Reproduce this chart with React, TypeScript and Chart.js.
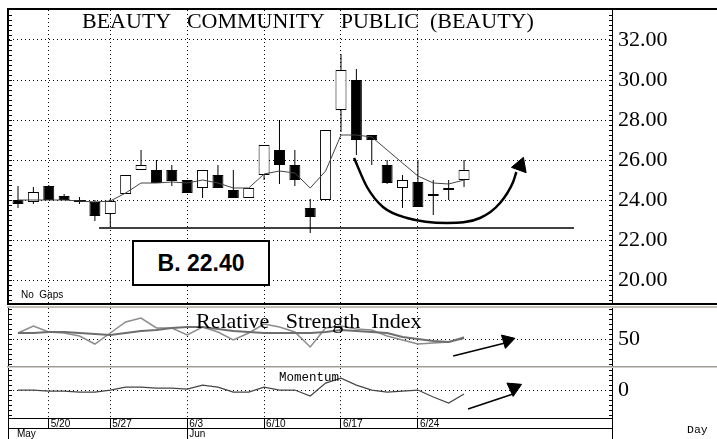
import React, { useEffect, useRef } from "react";
import { Chart, registerables } from "chart.js";
Chart.register(...registerables);

// ---------------- data ----------------
const tradingDays = ["5/16","5/17","5/20","5/21","5/22","5/23","5/24","5/28","5/29","5/30","5/31","6/3","6/4","6/5","6/6","6/7","6/10","6/11","6/12","6/13","6/14","6/17","6/18","6/19","6/20","6/21","6/24","6/25","6/26","6/27"];
const opens  = [24.0, 23.9, 24.7, 24.2, 24.0, 23.9, 23.3, 24.3, 25.5, 25.5, 25.5, 25.0, 24.6, 25.25, 24.5, 24.1, 25.25, 26.5, 25.75, 23.6, 24.0, 28.5, 30.0, 27.25, 25.75, 24.6, 24.9, 24.3, 24.5, 25.0];
const highs  = [24.7, 24.65, 24.75, 24.3, 24.15, 24.0, 24.05, 25.25, 26.5, 26.0, 25.75, 25.0, 25.5, 25.75, 25.5, 24.6, 26.75, 28.0, 26.5, 24.05, 27.5, 31.3, 30.55, 27.25, 26.0, 25.25, 26.0, 25.0, 25.0, 26.0];
const lows   = [23.6, 23.8, 24.0, 24.0, 23.8, 22.95, 22.65, 24.3, 25.5, 24.85, 24.7, 24.35, 24.1, 24.6, 24.1, 24.1, 25.0, 24.8, 24.7, 22.35, 24.0, 27.4, 26.25, 25.75, 24.8, 23.6, 23.65, 23.25, 24.0, 24.65];
const closes = [23.8, 24.4, 24.0, 24.0, 23.9, 23.2, 23.95, 25.25, 25.75, 24.85, 24.95, 24.35, 25.5, 24.6, 24.1, 24.6, 26.75, 25.75, 25.0, 23.15, 27.5, 30.5, 27.0, 27.0, 24.85, 25.0, 23.65, 24.2, 24.6, 25.5];
const movingAvg = [24.0, 24.0, 24.0, 24.0, 23.95, 23.9, 23.95, 24.35, 24.85, 24.85, 24.9, 24.85, 25.0, 24.85, 24.6, 24.6, 25.3, 25.45, 25.35, 24.6, 25.45, 27.25, 27.25, 27.15, 26.5, 25.85, 25.2, 24.85, 24.8, 25.0];

const rsiValues = [56, 63, 57, 56, 53, 45, 56, 67, 71, 61, 61, 54, 62, 57, 49, 56, 65, 62, 57, 42, 61, 63, 60, 59, 53, 49, 45, 46, 47, 52];
const rsiAverage = [56, 56, 57, 57, 56, 55, 54, 56, 58, 59, 61, 62, 62, 60, 58, 57, 56, 56, 56, 56, 57, 59, 58, 57, 56, 52, 50, 48, 47, 51];
const momentumValues = [0, 0, -1, -1, -2, -2, 0, 3, 3, 2, 2, 1, 5, 3, -2, -2, 3, 0, 0, -6, 7, 12, 5, 0, -2, -1, 0, -7, -13, -4];

const weekTickIdx = [2, 6, 11, 16, 21, 26];
const weekLabels = ["5/20", "5/27", "6/3", "6/10", "6/17", "6/24"];
const monthTickIdx = [-0.2, 11];
const monthLabels = ["May", "Jun"];

const priceTickValues = [20, 22, 24, 26, 28, 30, 32];
const priceTickLabels = ["20.00", "22.00", "24.00", "26.00", "28.00", "30.00", "32.00"];
const priceMinorTicks = [19, 19.25, 19.5, 19.75, 20, 20.25, 20.5, 20.75, 21, 21.25, 21.5, 21.75, 22, 22.25, 22.5, 22.75, 23, 23.25, 23.5, 23.75, 24, 24.25, 24.5, 24.75, 25, 25.25, 25.5, 25.75, 26, 26.25, 26.5, 26.75, 27, 27.25, 27.5, 27.75, 28, 28.25, 28.5, 28.75, 29, 29.25, 29.5, 29.75, 30, 30.25, 30.5, 30.75, 31, 31.25, 31.5, 31.75, 32, 32.25, 32.5, 32.75, 33, 33.25];
const rsiTickValues = [50];
const rsiTickLabels = ["50"];
const rsiMinorTicks = [25, 30, 35, 40, 45, 50, 55, 60, 65, 70, 75, 80];
const momTickValues = [0];
const momTickLabels = ["0"];
const momMinorTicks = [-25, -20, -15, -10, -5, 0, 5, 10, 15, 20];

// annotation marks (data units)
const supportLevel = 22.6;
const supportSpan = [5.27, 36.15];
const cupCurve = [
  { x: 21.85, y: 26.1 }, { x: 22.69, y: 24.65 }, { x: 23.73, y: 23.65 }, { x: 25.29, y: 23.1 },
  { x: 27.9, y: 22.85 }, { x: 30.04, y: 23.1 }, { x: 31.34, y: 23.85 }, { x: 32.19, y: 24.9 }, { x: 32.4, y: 25.4 },
];
const cupHead = { x: 32.66, y: 25.71 };
const rsiArrow = [{ x: 28.29, y: 33 }, { x: 31.67, y: 46 }];
const rsiHead = { x: 31.81, y: 48.4 };
const momArrow = [{ x: 29.26, y: -19 }, { x: 32.19, y: -4 }];
const momHead = { x: 32.24, y: 2.1 };

// ---------------- helpers ----------------
const X_MIN = -0.585;
const X_MAX = 38.62;
const serif = '"Liberation Serif", "Times New Roman", serif';
const sans = '"Liberation Sans", Arial, sans-serif';
const mono = '"Liberation Mono", "Courier New", monospace';

function hiddenX(): any {
  return {
    type: "linear", min: X_MIN, max: X_MAX, offset: false,
    afterBuildTicks: (s: any) => { s.ticks = weekTickIdx.map((v) => ({ value: v })); },
    afterFit: (s: any) => { s.height = 0; },
    ticks: { display: false },
    grid: { color: "#000", lineWidth: 1, drawTicks: false, offset: false },
    border: { display: false, dash: [1, 3] },
  };
}

function valueY(min: number, max: number, major: number[], labels: string[]): any {
  return {
    type: "linear", position: "right", min, max,
    afterBuildTicks: (s: any) => { s.ticks = major.map((v) => ({ value: v })); },
    afterFit: (s: any) => { s.width = 105; },
    ticks: {
      autoSkip: false, padding: 0, color: "#000", font: { family: serif, size: 22, lineHeight: 0.01 },
      callback: (_v: any, i: number) => labels[i],
    },
    grid: { drawTicks: true, tickLength: 6, tickColor: "rgba(0,0,0,0)", color: "#000", lineWidth: 1 },
    border: { display: false, dash: [1, 3] },
  };
}

function baseOptions(padding: any, scales: any): any {
  return {
    responsive: false, animation: false, devicePixelRatio: 1, events: [],
    layout: { padding, autoPadding: false },
    plugins: { legend: { display: false }, tooltip: { enabled: false }, title: { display: false } },
    scales,
  };
}

function minorTicks(ctx: CanvasRenderingContext2D, ys: any, minor: number[]) {
  minor.forEach((v) => {
    const p = Math.round(ys.getPixelForValue(v));
    ctx.fillRect(9, p, 3, 1);
    ctx.fillRect(609, p, 3, 1);
  });
}

const pts = (arr: number[]) => arr.map((v, i) => ({ x: i, y: v }));

function makePrice(canvas: HTMLCanvasElement) {
  const frame = {
    id: "priceFrame",
    afterDraw(chart: any) {
      const ctx = chart.ctx; ctx.save(); ctx.fillStyle = "#000";
      ctx.fillRect(7, 8, 2, 297);
      ctx.fillRect(7, 8, 710, 2);
      ctx.fillRect(7, 303, 710, 2);
      ctx.fillRect(612, 10, 1, 293);
      minorTicks(ctx, chart.scales.y, priceMinorTicks);
      ctx.restore();
    },
  };
  return new Chart(canvas, {
    type: "bar",
    data: {
      datasets: [
        { type: "bar", data: lows.map((l, i) => ({ x: i, y: [l, highs[i]] })), backgroundColor: "#000", borderWidth: 0, barThickness: 1, grouped: false, inflateAmount: 0, order: 4 } as any,
        { type: "bar", data: opens.map((o, i) => ({ x: i, y: [o, closes[i]] })), backgroundColor: opens.map((o, i) => (closes[i] >= o ? "#fff" : "#000")), borderColor: "#000", borderWidth: 1, borderSkipped: false, barThickness: 11, grouped: false, inflateAmount: 0, order: 3 } as any,
        { type: "line", data: pts(movingAvg), borderColor: "#444", borderWidth: 1, pointRadius: 0, order: 2 } as any,
        { type: "line", data: [{ x: supportSpan[0], y: supportLevel }, { x: supportSpan[1], y: supportLevel }], borderColor: "#000", borderWidth: 1.5, pointRadius: 0, order: 1 } as any,
        { type: "line", data: cupCurve, borderColor: "#000", borderWidth: 2.5, pointRadius: 0, cubicInterpolationMode: "monotone", order: 0 } as any,
        { type: "line", data: [cupHead], showLine: false, pointStyle: "triangle", pointRadius: 9, pointRotation: 20, pointBackgroundColor: "#000", pointBorderColor: "#000", order: 0 } as any,
      ],
    },
    options: baseOptions({ left: 9, top: 10, right: 0, bottom: 2 }, {
      x: hiddenX(),
      y: valueY(18.85, 33.5, priceTickValues, priceTickLabels),
    }),
    plugins: [frame],
  } as any);
}

function makeRsi(canvas: HTMLCanvasElement) {
  const frame = {
    id: "rsiFrame",
    afterDraw(chart: any) {
      const ctx = chart.ctx; ctx.save();
      ctx.fillStyle = "#c4c0b8"; ctx.fillRect(7, 1, 710, 2);
      ctx.fillStyle = "#9a9a9a"; ctx.fillRect(7, 61, 710, 1);
      ctx.fillStyle = "#d4d0c8"; ctx.fillRect(7, 62, 710, 1);
      ctx.fillStyle = "#000";
      ctx.fillRect(8, 3, 1, 58);
      ctx.fillRect(612, 3, 1, 58);
      minorTicks(ctx, chart.scales.y, rsiMinorTicks);
      ctx.restore();
    },
  };
  return new Chart(canvas, {
    type: "line",
    data: {
      datasets: [
        { data: pts(rsiValues), borderColor: "#8c8c8c", borderWidth: 1.5, pointRadius: 0, order: 2 },
        { data: pts(rsiAverage), borderColor: "#6e6e6e", borderWidth: 2, pointRadius: 0, order: 1 },
        { data: rsiArrow, borderColor: "#000", borderWidth: 1.5, pointRadius: 0, order: 0 },
        { data: [rsiHead], showLine: false, pointStyle: "triangle", pointRadius: 8, pointRotation: 73.6, pointBackgroundColor: "#000", pointBorderColor: "#000", order: 0 },
      ] as any,
    },
    options: baseOptions({ left: 9, top: 3, right: 0, bottom: 2 }, {
      x: hiddenX(),
      y: valueY(23, 81, rsiTickValues, rsiTickLabels),
    }),
    plugins: [frame],
  } as any);
}

function makeMom(canvas: HTMLCanvasElement) {
  const frame = {
    id: "momFrame",
    afterDraw(chart: any) {
      const ctx = chart.ctx; ctx.save(); ctx.fillStyle = "#000";
      ctx.fillRect(8, 0, 1, 71);
      ctx.fillRect(612, 0, 1, 71);
      ctx.fillRect(8, 50, 605, 1);
      ctx.fillRect(8, 60, 605, 1);
      minorTicks(ctx, chart.scales.y, momMinorTicks);
      ctx.restore();
    },
  };
  return new Chart(canvas, {
    type: "line",
    data: {
      datasets: [
        { data: pts(momentumValues), borderColor: "#454545", borderWidth: 1.2, pointRadius: 0, order: 1 },
        { data: momArrow, borderColor: "#000", borderWidth: 1.5, pointRadius: 0, order: 0 },
        { data: [momHead], showLine: false, pointStyle: "triangle", pointRadius: 8.5, pointRotation: 185, pointBackgroundColor: "#000", pointBorderColor: "#000", order: 0 },
      ] as any,
    },
    options: baseOptions({ left: 9, top: 0, right: 0, bottom: 0 }, {
      x: {
        type: "linear", position: "bottom", weight: 0, min: X_MIN, max: X_MAX, offset: false,
        afterBuildTicks: (s: any) => { s.ticks = weekTickIdx.map((v) => ({ value: v })); },
        afterFit: (s: any) => { s.height = 10; },
        ticks: {
          autoSkip: false, maxRotation: 0, minRotation: 0, align: "start", labelOffset: 2, padding: -10,
          color: "#000", font: { family: sans, size: 10 },
          callback: (_v: any, i: number) => weekLabels[i],
        },
        grid: { color: "#000", lineWidth: 1, drawTicks: true, tickLength: 10, tickColor: "#000", tickBorderDash: [], offset: false },
        border: { display: false, dash: [1, 3] },
      },
      xm: {
        type: "linear", position: "bottom", weight: 1, min: X_MIN, max: X_MAX, offset: false,
        afterBuildTicks: (s: any) => { s.ticks = monthTickIdx.map((v) => ({ value: v })); },
        afterFit: (s: any) => { s.height = 11; },
        ticks: {
          autoSkip: false, maxRotation: 0, minRotation: 0, align: "start", labelOffset: 2, padding: -11,
          color: "#000", font: { family: sans, size: 10 },
          callback: (_v: any, i: number) => monthLabels[i],
        },
        grid: {
          drawOnChartArea: false, drawTicks: true, tickLength: 11, lineWidth: 1, offset: false,
          tickColor: (c: any) => (c.index === 0 ? "rgba(0,0,0,0)" : "#000"), tickBorderDash: [],
        },
        border: { display: false },
      },
      y: valueY(-28, 22, momTickValues, momTickLabels),
    }),
    plugins: [frame],
  } as any);
}

const abs = (extra: any): any => ({ position: "absolute", margin: 0, color: "#000", whiteSpace: "pre", ...extra });

export default function App() {
  const priceRef = useRef<HTMLCanvasElement>(null);
  const rsiRef = useRef<HTMLCanvasElement>(null);
  const momRef = useRef<HTMLCanvasElement>(null);

  useEffect(() => {
    const charts = [
      makePrice(priceRef.current as HTMLCanvasElement),
      makeRsi(rsiRef.current as HTMLCanvasElement),
      makeMom(momRef.current as HTMLCanvasElement),
    ];
    return () => charts.forEach((c) => c.destroy());
  }, []);

  return (
    <div style={{ position: "absolute", left: 0, top: 0, width: 717, height: 439, background: "#fff", overflow: "hidden" }}>
      <canvas ref={priceRef} width={717} height={305} style={{ position: "absolute", left: 0, top: 0, width: 717, height: 305 }} />
      <canvas ref={rsiRef} width={717} height={63} style={{ position: "absolute", left: 0, top: 305, width: 717, height: 63 }} />
      <canvas ref={momRef} width={717} height={71} style={{ position: "absolute", left: 0, top: 368, width: 717, height: 71 }} />

      <div style={abs({ left: 82, top: 10, fontFamily: serif, fontSize: 22, lineHeight: "22px" })}>
        {"BEAUTY   COMMUNITY   PUBLIC  (BEAUTY)"}
      </div>
      <div style={abs({ left: 21, top: 290, fontFamily: sans, fontSize: 10, lineHeight: "10px" })}>{"No  Gaps"}</div>
      <div
        style={abs({
          left: 132, top: 240, width: 138, height: 46, boxSizing: "border-box", border: "2px solid #000", background: "#fff",
          display: "flex", alignItems: "center", justifyContent: "center", fontFamily: sans, fontWeight: "bold", fontSize: 23,
        })}
      >
        B. 22.40
      </div>
      <div style={abs({ left: 196, top: 310, fontFamily: serif, fontSize: 22, lineHeight: "22px" })}>
        {"Relative   Strength  Index"}
      </div>
      <div style={abs({ left: 279, top: 372, fontFamily: mono, fontSize: 12.5, lineHeight: "12.5px" })}>Momentum</div>
      <div style={abs({ left: 687, top: 424, fontFamily: mono, fontSize: 11.5, lineHeight: "11.5px" })}>Day</div>
    </div>
  );
}
